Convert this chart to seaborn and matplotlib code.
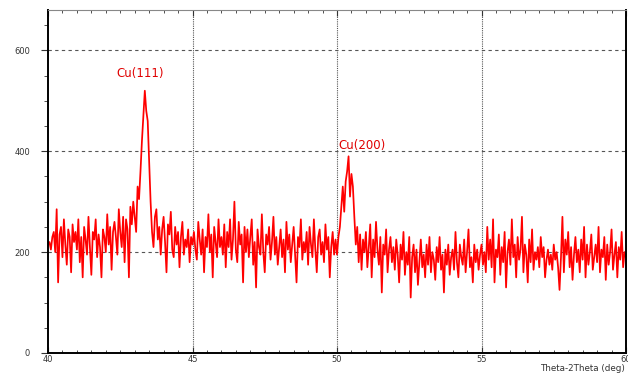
import numpy as np
import pandas as pd
import matplotlib
matplotlib.use("Agg")
import matplotlib.pyplot as plt
import seaborn as sns
from matplotlib.ticker import MultipleLocator

# 2-theta scan, 40 to 60 deg in 0.05 deg steps
two_theta_start = 40.0
two_theta_step = 0.05
counts = [
    # 40
    215, 220, 205, 230, 240, 200, 285, 140, 235, 250, 190, 265, 215, 175, 245, 230, 160, 255, 220, 240,
    # 41
    205, 265, 180, 230, 150, 250, 225, 195, 270, 210, 155, 240, 225, 265, 190, 235, 210, 150, 245, 230,
    # 42
    200, 275, 215, 250, 165, 240, 260, 230, 195, 285, 240, 210, 270, 180, 265, 245, 150, 290, 255, 300,
    # 43 - Cu(111)
    270, 240, 330, 305, 360, 420, 470, 520, 480, 460, 380, 300, 240, 210, 270, 285, 225, 250, 195, 245,
    # 44
    270, 220, 160, 255, 235, 280, 205, 190, 250, 215, 240, 170, 230, 260, 195, 225, 210, 245, 180, 230,
    # 45
    215, 240, 205, 185, 260, 225, 195, 245, 160, 230, 210, 275, 200, 235, 150, 250, 220, 190, 265, 210,
    # 46
    230, 195, 255, 170, 240, 210, 265, 185, 225, 300, 205, 180, 260, 215, 235, 140, 250, 200, 245, 190,
    # 47
    230, 265, 175, 220, 130, 245, 210, 195, 275, 200, 160, 235, 215, 250, 185, 220, 270, 195, 230, 175,
    # 48
    210, 245, 190, 225, 160, 260, 205, 235, 180, 215, 250, 195, 140, 230, 210, 265, 185, 220, 200, 240,
    # 49
    175, 250, 215, 190, 265, 205, 160, 230, 245, 195, 220, 180, 255, 205, 230, 150, 210, 240, 195, 225,
    # 50 - Cu(200)
    195, 230, 250, 290, 330, 280, 340, 360, 390, 310, 355, 330, 270, 215, 250, 180, 235, 165, 225, 200,
    # 51
    240, 170, 210, 255, 150, 225, 190, 260, 205, 175, 230, 120, 215, 195, 245, 160, 205, 230, 180, 210,
    # 52
    165, 225, 195, 140, 215, 185, 240, 155, 200, 175, 230, 110, 190, 215, 160, 205, 135, 180, 225, 170,
    # 53
    195, 150, 215, 175, 230, 160, 200, 185, 145, 210, 180, 230, 165, 195, 120, 205, 175, 215, 155, 190,
    # 54
    205, 165, 240, 180, 150, 215, 190, 175, 225, 160, 200, 245, 170, 190, 140, 215, 180, 205, 165, 195,
    # 55
    215, 175, 200, 160, 250, 185, 225, 170, 265, 140, 205, 190, 235, 155, 210, 180, 240, 130, 200, 225,
    # 56
    175, 265, 190, 215, 150, 230, 185, 205, 270, 160, 215, 195, 140, 225, 180, 245, 165, 200, 185, 210,
    # 57
    170, 230, 190, 210, 150, 185, 205, 175, 195, 165, 215, 185, 200, 170, 125, 190, 270, 160, 225, 195,
    # 58
    240, 170, 210, 145, 195, 230, 180, 205, 160, 225, 185, 250, 150, 215, 175, 200, 235, 165, 190, 215,
    # 59
    180, 250, 160, 205, 190, 230, 145, 215, 175, 200, 245, 165, 195, 220, 150, 210, 185, 240, 170, 200,
    # 60
    190,
]

peak_labels = ["Cu(111)", "Cu(200)"]
peak_label_x = [43.18, 50.85]
peak_label_y = [554, 412]

x_ticks = [40, 45, 50, 55, 60]
y_ticks = [0, 200, 400, 600]

df = pd.DataFrame({
    "two_theta": two_theta_start + two_theta_step * np.arange(len(counts)),
    "counts": counts,
})

sns.set_style("white")
plt.rcParams["font.family"] = ["DejaVu Sans"]

fig = plt.figure(figsize=(6.28, 3.73), dpi=100)
ax = fig.add_axes([48 / 628, 20 / 373, 578 / 628, 343 / 373])

sns.lineplot(data=df, x="two_theta", y="counts", ax=ax,
             color="#ff0000", linewidth=1.25, estimator=None)

ax.set_xlim(40, 60)
ax.set_ylim(0, 680)
ax.set_xticks(x_ticks)
ax.set_yticks(y_ticks)
ax.xaxis.set_minor_locator(MultipleLocator(0.5))
ax.yaxis.set_minor_locator(MultipleLocator(50))
ax.set_xlabel("")
ax.set_ylabel("")

# dashed horizontal / dotted vertical grid like the instrument software
for yv in y_ticks[1:]:
    ax.axhline(yv, color="#555555", linestyle=(0, (3, 3)), linewidth=0.8, zorder=0)
for xv in x_ticks[1:-1]:
    ax.axvline(xv, color="#555555", linestyle=(0, (1, 1)), linewidth=0.8, zorder=0)

ax.tick_params(axis="x", which="both", direction="in", top=True, bottom=True,
               labelsize=6, colors="#333333", pad=1.5)
ax.tick_params(axis="x", which="major", length=4, width=0.8)
ax.tick_params(axis="x", which="minor", length=2.5, width=0.6)
ax.tick_params(axis="y", which="both", direction="out", left=True,
               labelsize=6, colors="#333333", pad=8)
ax.tick_params(axis="y", which="major", length=5, width=0.8)
ax.tick_params(axis="y", which="minor", length=3, width=0.6)

for side in ["left", "bottom", "right"]:
    ax.spines[side].set_color("black")
    ax.spines[side].set_linewidth(1.4)
ax.spines["top"].set_color("#888888")
ax.spines["top"].set_linewidth(0.8)

for label, lx, ly in zip(peak_labels, peak_label_x, peak_label_y):
    ax.text(lx, ly, label, color="#e00000", fontsize=8.5,
            ha="center", va="center")

fig.text(0.995, 0.0, "Theta-2Theta (deg)", ha="right", va="bottom",
         fontsize=6.3, color="#333333")

fig.savefig("out.png", dpi=100)
